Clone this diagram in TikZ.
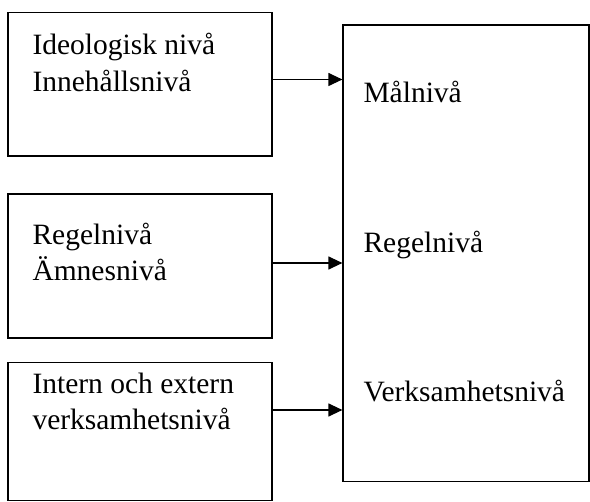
\documentclass[tikz,border=0pt]{standalone}
\usepackage{fontspec}
\setmainfont{Liberation Serif}
\usetikzlibrary{arrows.meta}

\begin{document}
\begin{tikzpicture}[x=1pt,y=-1pt,
  niva/.style={draw,line width=1.2pt,inner sep=0pt},
  txt/.style={inner sep=0pt,align=left,font=\fontsize{29.5}{36.6}\selectfont},
  pil/.style={line width=1.2pt,-{Triangle[length=14pt,width=13pt]}}]
\useasboundingbox (0,0) rectangle (590,502);

% left boxes
\node[niva,minimum width=264pt,minimum height=143.5pt] (ideo) at (140,84.25) {};
\node[txt,anchor=north west] (ideotxt) at (32.3,33.3) {Ideologisk nivå\\Innehållsnivå};

\node[niva,minimum width=264pt,minimum height=144pt] (regel) at (140,266) {};
\node[txt,anchor=north west] (regeltxt) at (32.3,222.7) {Regelnivå\\Ämnesnivå};

\node[niva,minimum width=264pt,minimum height=138pt] (intern) at (140,431.5) {};
\node[txt,anchor=north west] (interntxt) at (32.3,372.7) {Intern och extern\\verksamhetsnivå};

% right box
\node[niva,minimum width=246pt,minimum height=456.5pt] (ram) at (466,253.25) {};
\node[txt,anchor=base west] (mal) at (363.3,102.7) {Målnivå};
\node[txt,anchor=base west] (regel2) at (363.3,252.3) {Regelnivå};
\node[txt,anchor=base west] (verks) at (363.3,401.7) {Verksamhetsnivå};

% arrows
\draw[pil] (ideo.east |- 0,79.5) -- (ram.west |- 0,79.5);
\draw[pil] (regel.east |- 0,263) -- (ram.west |- 0,263);
\draw[pil] (intern.east |- 0,410) -- (ram.west |- 0,410);
\end{tikzpicture}
\end{document}
